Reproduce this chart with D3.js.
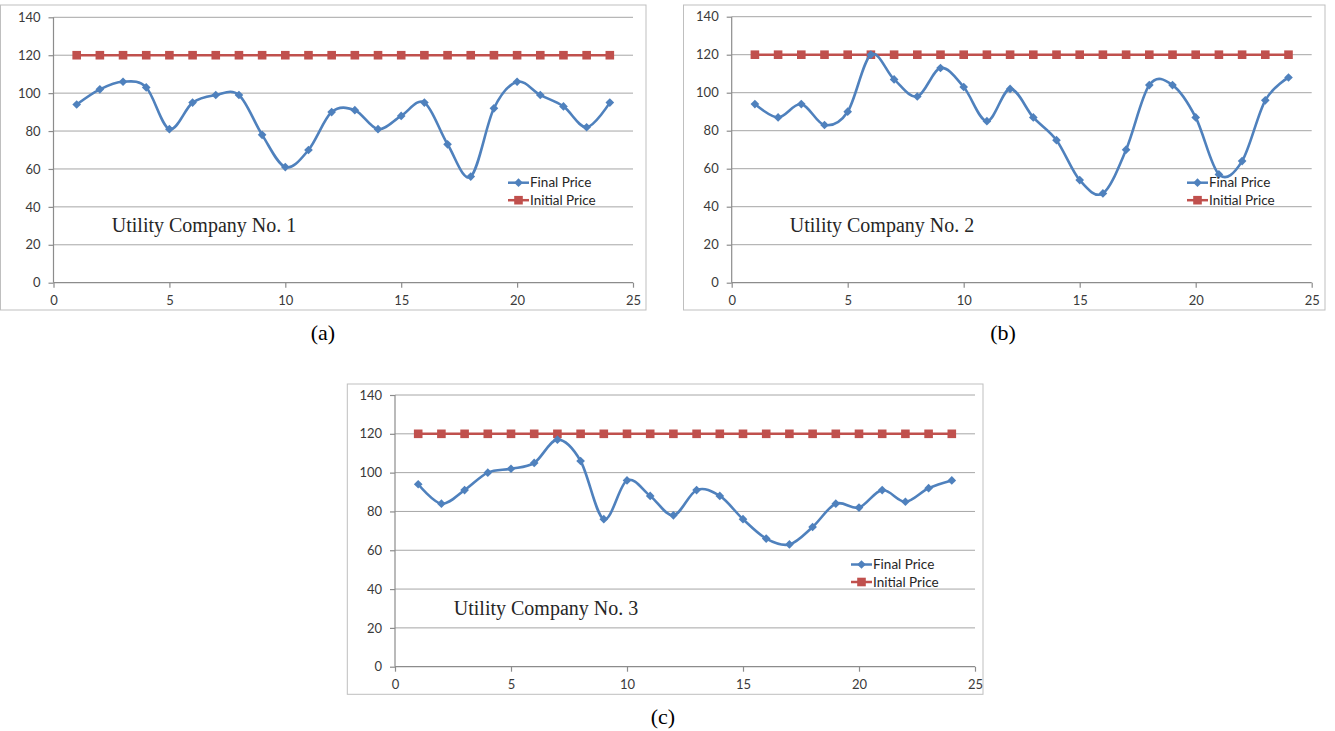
<!DOCTYPE html>
<html>
<head>
<meta charset="utf-8">
<script src="https://cdn.jsdelivr.net/npm/d3@7"></script>
<style>
  body { margin: 0; background: #fff; }
  svg { display: block; }
  .tick text { font-family: Lato, "Liberation Sans", sans-serif; font-size: 13px; fill: #3a3a3a; }
</style>
</head>
<body>
<svg id="chart" width="1335" height="731"></svg>
<script>
/* global d3 */

// DATA
var hours = d3.range(1, 25);
var finalPriceA = [94, 102, 106, 103, 81, 95, 99, 99, 78, 61, 70, 90, 91, 81, 88, 95, 73, 56, 92, 106, 99, 93, 82, 95];
var finalPriceB = [94, 87, 94, 83, 90, 120, 107, 98, 113, 103, 85, 102, 87, 75, 54, 47, 70, 104, 104, 87, 57, 64, 96, 108];
var finalPriceC = [94, 84, 91, 100, 102, 105, 117, 106, 76, 96, 88, 78, 91, 88, 76, 66, 63, 72, 84, 82, 91, 85, 92, 96];
var initialPrice = [120, 120, 120, 120, 120, 120, 120, 120, 120, 120, 120, 120, 120, 120, 120, 120, 120, 120, 120, 120, 120, 120, 120, 120];
var companies = ['Utility Company No. 1', 'Utility Company No. 2', 'Utility Company No. 3'];
var panelLabels = ['(a)', '(b)', '(c)'];
var seriesNames = ['Final Price', 'Initial Price'];
var xTicks = [0, 5, 10, 15, 20, 25];
var yTicks = [0, 20, 40, 60, 80, 100, 120, 140];

var blue = '#4f81bd', red = '#c0504d';

// layout of the three panels (pixel boxes)
var panels = [
  { frame: [0.5, 5, 646, 310], x0: 53.5, x1: 633, y0: 282.7, y1: 17.3, titleX: 204, titleY: 232, legX: 508, legY: 182.7, labelX: 323, labelY: 340, values: finalPriceA },
  { frame: [683.5, 5, 1325, 310], x0: 731.7, x1: 1311.7, y0: 282.7, y1: 16.7, titleX: 882, titleY: 232, legX: 1187, legY: 182.7, labelX: 1003, labelY: 340, values: finalPriceB },
  { frame: [347.3, 384, 983, 694.3], x0: 395, x1: 975, y0: 666.7, y1: 395, titleX: 546, titleY: 615, legX: 851, legY: 564.5, labelX: 663, labelY: 724, values: finalPriceC }
];

var svg = d3.select('#chart');

panels.forEach(function (p, i) {
  var g = svg.append('g');

  var xScale = d3.scaleLinear().domain([0, 25]).range([p.x0, p.x1]);
  var yScale = d3.scaleLinear().domain([0, 140]).range([p.y0, p.y1]);

  // frame
  g.append('rect')
    .attr('x', p.frame[0]).attr('y', p.frame[1])
    .attr('width', p.frame[2] - p.frame[0]).attr('height', p.frame[3] - p.frame[1])
    .attr('fill', '#fff').attr('stroke', '#bfbfbf').attr('stroke-width', 1);

  // gridlines
  g.selectAll('.grid')
    .data(yTicks.filter(function (d) { return d > 0; }))
    .enter().append('line')
    .attr('x1', xScale(0)).attr('x2', xScale(25))
    .attr('y1', function (d) { return yScale(d); })
    .attr('y2', function (d) { return yScale(d); })
    .attr('stroke', '#a6a6a6').attr('stroke-width', 1);

  // axes
  var yAxis = d3.axisLeft(yScale).tickValues(yTicks).tickSize(5).tickPadding(8);
  var xAxis = d3.axisBottom(xScale).tickValues(xTicks).tickSize(5).tickPadding(8);

  var gy = g.append('g')
    .attr('transform', 'translate(' + xScale(0) + ',0)')
    .call(yAxis);
  var gx = g.append('g')
    .attr('transform', 'translate(0,' + yScale(0) + ')')
    .call(xAxis);

  [gx, gy].forEach(function (ax) {
    ax.select('.domain').attr('stroke', '#8c8c8c').attr('stroke-width', 1.2);
    ax.selectAll('.tick line').attr('stroke', '#8c8c8c').attr('stroke-width', 1.2);
    ax.attr('font-family', null).attr('font-size', null);
  });
  gx.select('.domain').attr('d', 'M' + xScale(0) + ',0H' + xScale(25));
  gy.select('.domain').attr('d', 'M0,' + yScale(0) + 'V' + yScale(140));

  // series
  var line = d3.line()
    .x(function (d, j) { return xScale(hours[j]); })
    .y(function (d) { return yScale(d); });

  g.append('path')
    .datum(initialPrice)
    .attr('d', line.curve(d3.curveLinear))
    .attr('fill', 'none').attr('stroke', red).attr('stroke-width', 2.5);

  g.selectAll('.sq')
    .data(initialPrice)
    .enter().append('rect')
    .attr('x', function (d, j) { return xScale(hours[j]) - 4.3; })
    .attr('y', function (d) { return yScale(d) - 4.3; })
    .attr('width', 8.6).attr('height', 8.6)
    .attr('fill', red);

  g.append('path')
    .datum(p.values)
    .attr('d', d3.line()
      .x(function (d, j) { return xScale(hours[j]); })
      .y(function (d) { return yScale(d); })
      .curve(d3.curveCardinal.tension(0)))
    .attr('fill', 'none').attr('stroke', blue).attr('stroke-width', 2.6);

  var diamond = d3.symbol().type(d3.symbolDiamond2).size(48);
  g.selectAll('.dm')
    .data(p.values)
    .enter().append('path')
    .attr('d', diamond)
    .attr('transform', function (d, j) { return 'translate(' + xScale(hours[j]) + ',' + yScale(d) + ')'; })
    .attr('fill', blue);

  // in-plot title
  g.append('text')
    .attr('x', p.titleX).attr('y', p.titleY)
    .attr('text-anchor', 'middle')
    .attr('font-family', '"Liberation Serif", serif')
    .attr('font-size', 20)
    .attr('fill', '#262626')
    .text(companies[i]);

  // legend
  var leg = g.append('g').attr('transform', 'translate(' + p.legX + ',' + p.legY + ')');
  leg.append('line').attr('x1', 0).attr('x2', 21).attr('y1', 0).attr('y2', 0)
    .attr('stroke', blue).attr('stroke-width', 2.5);
  leg.append('path').attr('d', diamond).attr('transform', 'translate(10.5,0)').attr('fill', blue);
  leg.append('line').attr('x1', 0).attr('x2', 21).attr('y1', 17.5).attr('y2', 17.5)
    .attr('stroke', red).attr('stroke-width', 2.5);
  leg.append('rect').attr('x', 6.2).attr('y', 13.2).attr('width', 8.6).attr('height', 8.6).attr('fill', red);
  leg.selectAll('text')
    .data(seriesNames)
    .enter().append('text')
    .attr('x', 22).attr('y', function (d, j) { return j * 17.5 + 4.6; })
    .attr('font-family', 'Lato, "Liberation Sans", sans-serif')
    .attr('font-size', 13.5)
    .attr('fill', '#262626')
    .text(function (d) { return d; });

  // panel label
  svg.append('text')
    .attr('x', p.labelX).attr('y', p.labelY)
    .attr('text-anchor', 'middle')
    .attr('font-family', '"Liberation Serif", "Times New Roman", serif')
    .attr('font-size', 22)
    .attr('fill', '#000')
    .text(panelLabels[i]);
});
</script>
</body>
</html>
